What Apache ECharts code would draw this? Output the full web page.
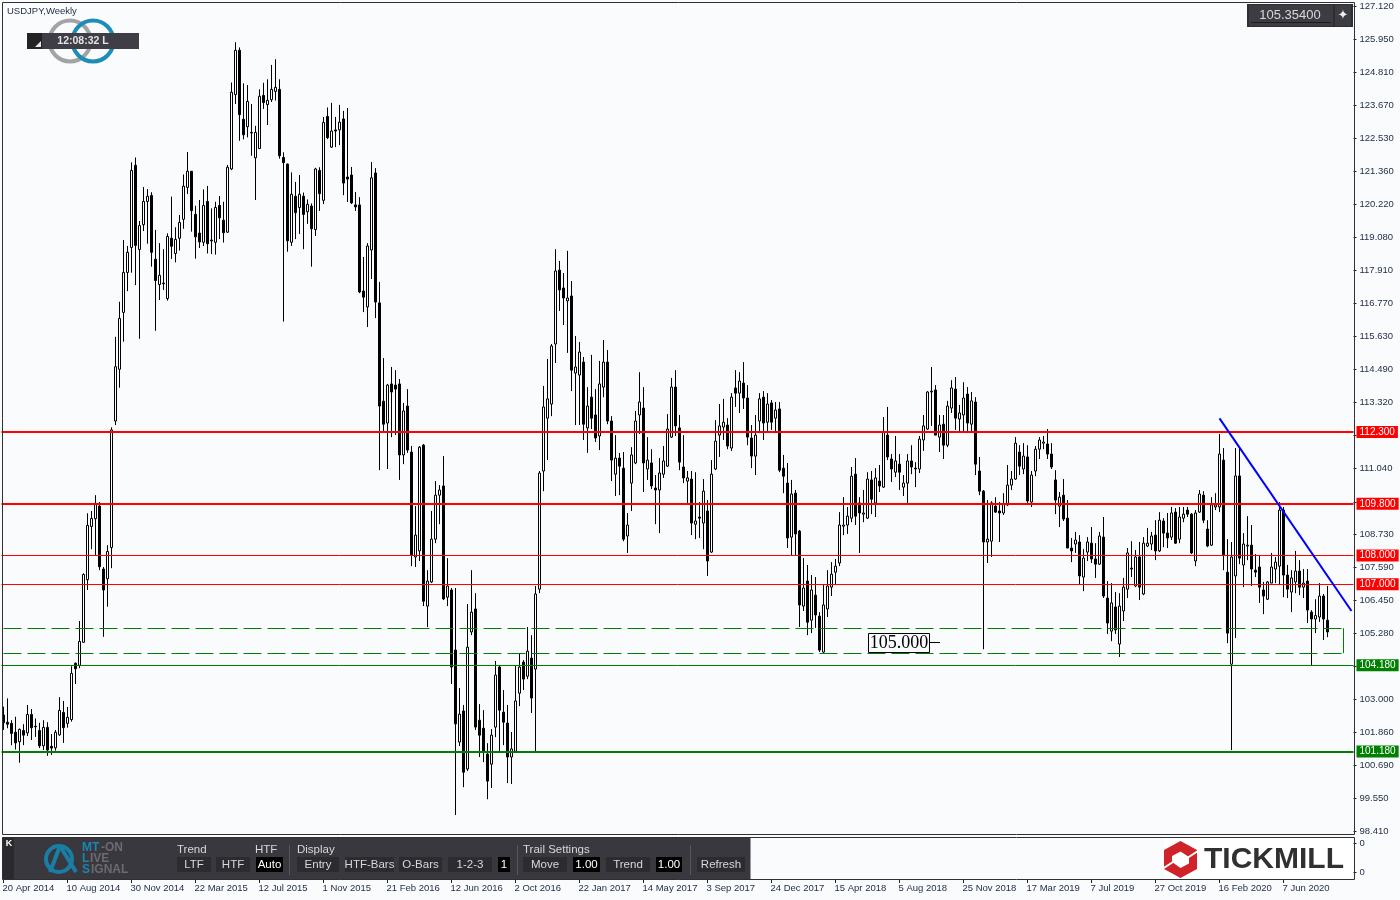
<!DOCTYPE html>
<html><head><meta charset="utf-8">
<style>html,body{margin:0;padding:0;background:#f9fbfd}#c{width:1400px;height:900px}</style>
<script src="https://cdn.jsdelivr.net/npm/echarts@6/dist/echarts.min.js"></script>
</head><body><div id="c"></div>
<script>
const tickLabels=['20 Apr 2014','10 Aug 2014','30 Nov 2014','22 Mar 2015','12 Jul 2015','1 Nov 2015','21 Feb 2016','12 Jun 2016','2 Oct 2016','22 Jan 2017','14 May 2017','3 Sep 2017','24 Dec 2017','15 Apr 2018','5 Aug 2018','25 Nov 2018','17 Mar 2019','7 Jul 2019','27 Oct 2019','16 Feb 2020','7 Jun 2020'];
const priceTicks=[127.12,125.95,124.81,123.67,122.53,121.36,120.22,119.08,117.91,116.77,115.63,114.49,113.32,112.18,111.04,109.87,108.73,107.59,106.45,105.28,104.14,103.0,101.86,100.69,99.55,98.41];
const opens=[102.45,102.20,102.16,101.85,101.52,101.91,101.83,102.47,102.06,101.91,
101.38,102.02,101.36,101.31,101.76,102.54,102.16,102.29,104.25,104.18,
104.98,107.16,109.01,109.28,109.72,107.53,107.19,108.28,112.68,114.48,
116.46,117.85,118.72,121.58,118.65,119.51,120.32,120.53,118.31,117.43,
117.48,116.94,119.04,118.51,119.04,119.70,120.81,121.37,119.87,119.22,
118.90,120.32,118.98,118.90,120.18,119.67,119.25,121.45,124.04,125.58,
123.18,122.92,122.72,121.84,122.16,124.01,123.69,123.86,124.15,124.22,
121.85,121.62,118.90,120.50,120.11,120.50,119.96,120.16,119.34,121.40,
120.36,123.28,122.21,122.81,122.81,123.19,121.17,121.24,120.20,120.20,
117.20,116.65,118.63,121.31,116.79,113.37,112.61,113.97,113.93,113.97,
111.50,113.20,111.60,107.95,108.16,111.84,106.24,107.08,108.57,110.10,
110.42,106.55,106.80,104.71,101.51,102.59,100.57,105.34,106.14,102.27,
101.99,101.09,100.74,102.03,104.12,102.55,102.17,100.99,101.19,103.21,
104.29,103.80,104.43,104.05,106.83,110.94,112.78,113.27,115.36,117.93,
117.31,116.86,117.03,114.35,114.28,114.73,112.44,113.51,112.89,112.16,
113.86,114.73,112.68,110.83,111.39,111.04,108.68,110.52,111.22,112.89,
113.13,111.01,111.22,110.35,110.28,110.83,111.11,112.12,113.86,112.44,
111.08,110.59,110.66,109.09,109.34,109.13,109.55,108.12,111.01,112.19,
112.47,112.54,111.74,113.83,113.65,114.00,113.48,112.09,111.46,112.68,
113.51,112.64,113.31,112.78,113.10,111.04,110.52,108.64,110.17,108.85,
106.24,107.11,105.75,106.62,105.89,104.64,106.14,106.90,107.42,107.74,
109.02,109.06,109.30,110.83,109.83,109.44,109.30,110.63,109.83,110.59,
110.38,112.19,111.36,110.90,111.18,110.38,110.52,111.29,111.04,111.01,
112.02,112.40,113.69,113.76,112.12,112.57,111.84,113.13,113.79,112.75,
112.89,113.62,112.57,113.34,110.94,110.24,108.47,108.50,109.72,109.55,
109.48,109.76,110.45,110.66,111.60,111.01,111.43,109.86,110.94,111.70,
111.91,111.88,111.53,110.63,109.72,110.10,109.30,108.26,108.40,108.47,
107.25,108.12,108.43,107.88,107.70,108.64,106.52,105.37,106.21,104.92,
106.07,106.83,107.56,106.94,107.95,106.66,108.33,108.40,108.71,108.16,
109.20,108.78,108.64,109.51,108.57,109.30,109.58,109.44,107.81,109.51,
110.10,108.92,108.36,109.69,109.69,111.32,107.42,104.22,107.29,110.77,
107.67,108.33,108.36,107.49,107.60,106.80,106.48,107.04,107.53,107.63,
109.58,107.32,106.73,107.08,107.46,106.90,107.11,106.03,105.79,105.86,106.59,105.75];
const closes=[102.18,102.13,101.81,101.48,101.95,101.75,102.47,102.01,102.04,101.38,
102.02,101.23,101.30,101.85,102.61,102.01,102.37,103.90,104.06,105.01,
107.34,109.05,109.29,109.81,107.61,106.80,108.14,112.37,114.57,116.25,
117.85,118.55,121.40,118.79,119.48,120.32,120.50,118.55,117.57,117.75,
117.46,119.10,118.76,119.00,119.59,120.85,121.37,120.00,119.09,118.91,
120.18,118.85,118.95,120.11,119.75,119.23,121.51,124.12,125.58,123.34,
122.64,123.80,122.70,122.72,123.98,123.76,123.84,124.22,124.29,121.91,
121.67,118.95,120.57,119.93,120.57,119.87,120.22,119.37,121.45,120.59,
123.07,122.54,122.77,122.77,123.08,120.96,121.10,120.27,120.13,117.17,
116.99,118.77,121.14,116.82,113.20,112.57,113.93,113.69,113.79,111.50,
113.03,111.67,108.02,108.71,111.77,106.41,107.11,108.57,110.10,110.28,
106.49,106.94,104.12,102.14,102.48,100.46,104.81,106.03,102.03,101.75,
101.19,100.15,101.75,103.84,102.62,102.20,100.99,101.27,102.94,104.12,
103.70,104.67,103.04,106.66,110.87,113.17,113.45,115.29,117.90,117.24,
116.96,116.96,114.45,114.56,115.08,112.57,113.20,112.78,112.09,113.97,
114.73,112.68,111.32,111.39,111.11,108.57,109.06,111.50,112.68,113.34,
111.22,111.32,110.42,110.28,110.87,111.29,112.40,113.86,112.51,111.25,
110.70,110.70,109.13,109.20,109.30,110.24,107.81,110.83,111.98,112.51,
112.64,111.81,113.51,113.65,114.07,113.48,112.12,111.46,112.19,113.45,
112.61,113.27,112.64,113.06,110.97,110.76,108.61,110.14,108.75,106.28,
106.87,105.68,106.80,105.93,104.71,106.28,106.94,107.35,107.63,109.06,
109.06,109.37,110.76,109.37,109.48,109.48,110.66,109.96,110.70,110.42,
112.30,111.43,111.01,111.29,110.90,110.52,111.29,111.08,111.01,112.05,
112.51,113.69,113.72,112.19,112.54,111.84,113.20,113.83,112.78,112.96,
113.48,112.61,113.38,111.18,110.24,108.47,108.57,109.83,109.51,109.48,
109.79,110.45,110.66,111.91,111.11,111.46,109.90,110.80,111.70,112.02,
111.95,111.53,111.08,109.93,110.03,109.27,108.26,108.16,108.54,107.29,
107.91,108.47,107.88,107.70,108.68,106.59,105.65,106.35,105.41,106.24,
106.90,108.09,107.53,107.95,106.90,108.43,108.43,108.68,108.16,109.23,
108.78,108.61,109.48,108.43,109.34,109.44,109.44,108.09,109.48,110.14,
109.23,108.33,109.76,109.76,111.53,108.02,105.30,107.95,110.77,107.91,
108.40,108.36,107.53,107.42,106.90,106.59,107.08,107.60,107.77,109.58,
107.32,106.83,107.22,107.46,106.90,107.04,106.10,105.79,105.91,106.59,105.79,105.34];
const highs=[102.74,103.03,102.27,102.39,101.98,102.13,102.80,102.66,102.33,102.18,
102.27,102.20,101.79,101.93,103.07,102.94,102.73,104.15,104.28,105.72,
107.38,109.47,109.55,110.10,109.86,107.60,108.36,112.46,115.61,116.83,
118.98,118.77,121.68,121.85,119.64,120.82,120.75,120.64,119.33,118.87,
118.66,119.21,120.49,119.42,119.85,121.26,122.04,121.38,120.17,120.37,
120.74,120.86,120.08,120.31,120.51,120.31,121.59,124.46,125.86,125.68,
124.43,124.37,123.71,122.95,124.22,124.45,124.57,125.07,125.27,124.57,
122.03,121.64,121.33,121.00,121.24,120.63,120.39,120.25,121.49,121.51,
123.26,123.59,123.75,123.26,123.68,123.47,123.57,121.52,120.65,120.47,
118.39,118.87,121.69,121.48,117.52,114.87,113.97,114.56,114.45,114.14,
113.31,113.79,111.81,109.72,111.81,111.88,107.49,109.55,110.59,110.45,
111.46,107.91,106.87,106.87,103.39,102.80,106.31,107.49,106.69,102.83,
102.62,101.47,101.96,104.33,104.19,103.32,102.80,101.86,104.19,104.60,
104.36,105.51,105.23,106.94,110.94,113.90,114.84,115.36,118.66,118.25,
117.83,118.60,117.55,115.64,115.43,114.91,113.86,114.98,113.79,114.77,
115.50,115.15,112.85,112.19,111.57,111.60,109.48,111.77,113.03,114.38,
113.86,112.12,111.70,110.80,111.39,111.81,112.92,114.18,114.45,112.89,
112.19,110.94,110.94,110.90,109.86,110.66,109.93,111.32,112.71,113.27,
113.45,112.78,113.65,114.45,114.38,114.73,113.93,112.54,112.89,113.65,
113.72,113.65,113.41,113.34,113.34,111.50,111.22,110.63,110.28,108.89,
107.91,107.67,107.32,107.25,106.03,106.97,107.49,107.77,107.88,109.51,
110.03,109.69,111.08,111.39,110.03,110.28,110.90,110.94,111.04,111.15,
112.82,113.17,111.53,112.16,111.53,110.80,111.53,111.84,111.25,112.16,
112.89,113.72,114.56,113.93,112.89,112.89,113.38,114.10,114.21,113.24,
114.03,113.86,113.69,113.51,111.43,110.28,109.93,109.89,110.03,109.86,
110.17,111.15,110.94,112.12,111.84,111.91,111.84,110.94,111.81,112.12,
112.16,112.40,111.91,110.97,110.21,110.66,109.93,108.61,108.82,108.71,
108.22,108.64,108.99,108.43,108.82,109.34,107.11,107.04,106.73,106.69,
107.22,108.26,108.50,108.19,108.47,108.64,108.96,108.82,109.23,109.51,
109.30,109.48,109.69,109.65,109.69,109.69,109.69,109.48,109.58,110.28,
110.24,109.23,110.03,110.17,112.23,111.74,108.57,108.47,111.74,111.77,
108.78,109.37,109.06,108.05,108.02,107.08,107.11,108.09,107.95,109.86,
109.69,107.67,107.49,108.16,107.84,107.53,107.53,106.10,106.48,107.04,106.66,106.94];
const lows=[101.93,101.99,101.40,101.25,100.79,101.40,101.72,101.58,101.69,101.30,
101.23,101.03,101.06,101.21,101.73,101.48,102.01,102.22,103.53,104.08,
104.97,106.80,108.22,108.02,107.49,105.17,106.22,107.56,112.54,113.84,
115.44,117.20,117.84,117.41,115.54,119.29,118.85,118.05,115.82,116.89,
117.24,116.87,118.32,118.20,118.61,119.37,120.58,119.27,118.33,118.70,
118.77,118.51,118.49,118.47,119.01,118.89,119.23,121.41,123.71,122.43,
122.48,122.55,121.91,120.37,122.15,123.54,122.98,123.78,123.83,121.81,
116.14,118.57,118.77,119.01,119.19,118.66,119.54,118.05,119.12,119.99,
120.23,122.49,122.18,122.21,122.28,120.54,120.30,120.23,119.99,117.13,
116.47,115.95,117.62,116.26,110.97,112.30,111.01,112.12,112.19,110.63,
111.18,111.57,107.63,107.60,107.81,106.24,105.51,107.04,108.43,109.09,
106.45,106.24,103.53,98.97,101.37,99.94,100.50,105.23,101.93,100.99,
100.81,99.52,99.91,101.68,101.19,101.40,100.08,100.05,101.19,102.76,
103.32,103.70,102.52,101.19,106.69,110.24,111.32,112.85,114.70,116.51,
116.02,115.05,113.72,112.54,112.54,112.02,111.57,112.40,111.95,111.67,
113.51,112.57,110.59,110.07,110.10,108.50,108.09,109.55,111.18,112.23,
110.21,110.63,110.31,109.09,108.78,110.70,111.08,112.09,112.16,110.97,
110.52,109.83,108.71,108.57,108.61,108.22,107.29,108.09,110.97,111.43,
112.02,111.70,111.64,113.17,112.96,113.10,111.84,111.04,110.80,112.26,
112.02,112.30,112.37,112.26,110.90,110.17,108.26,108.02,108.02,105.51,
106.07,105.23,105.30,105.48,104.64,104.61,105.86,106.59,106.97,107.63,
108.71,108.75,109.16,109.06,108.09,109.16,109.27,109.44,109.34,110.21,
110.35,111.32,110.56,110.73,110.28,110.07,109.83,110.83,110.38,110.87,
111.64,112.37,112.51,112.19,111.60,111.36,111.77,112.96,112.37,112.33,
112.30,112.26,112.26,110.80,110.10,104.74,107.74,107.95,109.48,108.47,
109.41,109.72,110.28,110.63,110.80,110.83,109.83,109.69,110.76,111.36,
111.70,111.36,111.01,109.44,108.99,109.20,108.26,107.77,108.09,107.01,
106.76,107.81,107.74,107.22,107.67,106.52,105.27,105.02,105.27,104.47,
105.72,106.52,107.25,106.90,106.45,106.62,108.29,108.19,107.84,108.12,
108.29,108.26,108.54,108.40,108.43,109.16,109.34,108.05,107.63,109.48,
109.13,108.29,108.33,109.58,109.51,107.49,104.95,101.23,105.13,107.70,
106.90,107.84,106.94,107.25,106.35,105.96,106.45,107.04,107.04,106.97,
106.55,106.52,106.03,106.69,106.62,106.52,105.65,104.19,105.30,105.69,105.06,105.16];
const levelValues=[112.3,109.8,108.0,107.0,104.18,101.18];
const levelColors=['#ff0000','#ff0000','#ff0000','#ff0000','#008000','#008000'];
const levelWidths=[2,2,1,1,1,2];
const zoneTop=105.47, zoneBottom=104.60, zoneEndBar=335;
const trendStart=[304,112.77], trendEnd=[337,106.07];
const sideBars=6;
const cats=[];
for(let i=0;i<opens.length+sideBars;i++){cats.push(i%16===0&&tickLabels[i/16]?tickLabels[i/16]:'w'+i);}
const candles=opens.map((o,i)=>[o,closes[i],lows[i],highs[i]]);
const showTick=(idx)=>idx%16===0&&idx<opens.length;

const FONT='"Liberation Sans",Arial,sans-serif';
const PANEL='#39383f', BTN='#2b2b30', AXIS='#1f2a44';
const g=[];
const rect=(x,y,w,h,fill,z)=>g.push({type:'rect',z:z||50,silent:true,shape:{x,y,width:w,height:h},style:{fill}});
const txt=(x,y,t,o)=>g.push({type:'text',z:60,silent:true,x,y,style:Object.assign({text:t,fill:'#d8d8da',font:'11.5px '+FONT,textAlign:'center',textVerticalAlign:'middle'},o||{})});
const btn=(x,w,t,black)=>{rect(x,857,w,15,black?'#000':BTN,55);txt(x+w/2,864.5,t,{fill:black?'#fff':'#d8d8da'});};
rect(2.5,837,748,42.5,PANEL);
rect(3,838,11,41,'#2a2a2e',52);
txt(9,844,'K',{font:'bold 9px '+FONT,fill:'#fff'});
txt(177,849.5,'Trend',{textAlign:'left'});
btn(177,34,'LTF');btn(216,34,'HTF');
txt(255,849.5,'HTF',{textAlign:'left'});
btn(256,27,'Auto',true);
rect(289,845,1,30,'#55555b',55);
txt(297,849.5,'Display',{textAlign:'left'});
btn(297,42,'Entry');btn(345,49,'HTF-Bars');btn(399,43,'O-Bars');btn(448,44,'1-2-3');btn(498,12,'1',true);
rect(517,845,1,30,'#55555b',55);
txt(523,849.5,'Trail Settings',{textAlign:'left'});
btn(523,44,'Move');btn(573,27,'1.00',true);btn(606,44,'Trend');btn(656,26,'1.00',true);
rect(690,845,1,30,'#55555b',55);
btn(697,48,'Refresh');
g.push({type:'arc',z:60,silent:true,shape:{cx:59,cy:859,r:13,startAngle:0,endAngle:Math.PI*2},style:{stroke:'#1a7da6',lineWidth:4,fill:null}});
g.push({type:'line',z:60,silent:true,shape:{x1:50,y1:872,x2:60,y2:846},style:{stroke:'#1a7da6',lineWidth:4}});
g.push({type:'line',z:60,silent:true,shape:{x1:60,y1:846,x2:76,y2:872},style:{stroke:'#1a7da6',lineWidth:4}});
txt(82,848,'MT',{textAlign:'left',font:'bold 12px '+FONT,fill:'#1a86b0'});
txt(101,848,'-ON',{textAlign:'left',font:'bold 12px '+FONT,fill:'#6b6b70'});
txt(82,858.5,'L',{textAlign:'left',font:'bold 12px '+FONT,fill:'#1a86b0'});
txt(90,858.5,'IVE',{textAlign:'left',font:'bold 12px '+FONT,fill:'#6b6b70'});
txt(82,869.5,'S',{textAlign:'left',font:'bold 12px '+FONT,fill:'#1a86b0'});
txt(91,869.5,'IGNAL',{textAlign:'left',font:'bold 12px '+FONT,fill:'#6b6b70'});
rect(1164,838,189,41,'#ffffff',45);
g.push({type:'polygon',z:60,silent:true,shape:{points:[[1164,867],[1164,850],[1180.5,841],[1197,850],[1197,852],[1189,857],[1180.5,851.5],[1172,856],[1172,862]]},style:{fill:'#cf2229'}});
g.push({type:'polygon',z:60,silent:true,shape:{points:[[1197,852],[1197,869],[1180.5,878],[1164,869],[1164,867],[1172,862],[1180.5,868],[1189,863.5],[1189,857]]},style:{fill:'#cf2229'}});
g.push({type:'line',z:61,silent:true,shape:{x1:1163,y1:868.5,x2:1173,y2:862},style:{stroke:'#fff',lineWidth:2}});
g.push({type:'line',z:61,silent:true,shape:{x1:1188,y1:857.5,x2:1198,y2:851},style:{stroke:'#fff',lineWidth:2}});
txt(1204,860,'TICKMILL',{textAlign:'left',font:'bold 30px '+FONT,fill:'#303030'});
g.push({type:'arc',z:40,silent:true,shape:{cx:70,cy:41,r:20.5,startAngle:0,endAngle:Math.PI*2},style:{stroke:'#a3a3a5',lineWidth:4,fill:null}});
g.push({type:'arc',z:41,silent:true,shape:{cx:93,cy:41,r:20.5,startAngle:0,endAngle:Math.PI*2},style:{stroke:'#1b8db8',lineWidth:4,fill:null}});
rect(27,33,112,16,'#3f3d45');
rect(27,33,15,16,'#232326',51);
g.push({type:'polygon',z:60,silent:true,shape:{points:[[35,47],[41,47],[41,41]]},style:{fill:'#e8e8e8'}});
txt(83,41,'12:08:32 L',{font:'bold 10.5px '+FONT,fill:'#e4e4e6'});
txt(7,11,'USDJPY,Weekly',{textAlign:'left',font:'9.5px '+FONT,fill:AXIS});
rect(1247,4,106,23,'#2e2d33');
rect(1249,5,84,21,'#3d3c43',51);
rect(1251,22,80,1,'#1c1c1f',52);
rect(1335,5,16,21,'#3d3c43',51);
txt(1290,15.5,'105.35400',{font:'13px '+FONT,fill:'#d8d8da'});
txt(1343,15.5,'\u2726',{font:'13px "DejaVu Sans"',fill:'#eee'});
rect(868.5,633.5,61,19,'#f9fbfd',40);
g.push({type:'rect',z:61,silent:true,shape:{x:868.5,y:633.5,width:61,height:19},style:{fill:null,stroke:'#000',lineWidth:1}});
g.push({type:'line',z:61,silent:true,shape:{x1:930,y1:642.5,x2:940,y2:642.5},style:{stroke:'#000',lineWidth:1}});
txt(899,643.5,'105.000',{font:'18px "Liberation Serif",serif',fill:'#000'});
[[2.5,2.5,1352,832],[2.5,837.5,1352,42]].forEach(f=>g.push({type:'rect',z:70,silent:true,shape:{x:f[0],y:f[1],width:f[2],height:f[3]},style:{fill:null,stroke:'#2f2f2f',lineWidth:1}}));

const levelLines=levelValues.map((v,i)=>({yAxis:v,lineStyle:{color:levelColors[i],width:levelWidths[i],type:'solid'},
  label:{show:true,position:'end',distance:3,formatter:v.toFixed(3),color:'#fff',backgroundColor:levelColors[i],padding:[1,3,1,3],fontFamily:FONT,fontSize:10,lineHeight:10}}));
const dash={color:'#008000',width:1,type:[18,6]};
const seg=(a,b,ls)=>[{coord:a,lineStyle:ls,label:{show:false}},{coord:b}];

const chart=echarts.init(document.getElementById('c'),null,{renderer:'canvas'});
chart.setOption({
 animation:false,backgroundColor:'#f9fbfd',
 grid:[{left:1.5,top:2,width:4*cats.length,height:832,outerBoundsMode:'none',containLabel:false},
       {left:1.5,top:837,width:4*cats.length,height:43,outerBoundsMode:'none',containLabel:false}],
 xAxis:[
  {type:'category',gridIndex:0,data:cats,boundaryGap:true,axisLine:{show:false,onZero:false},axisTick:{show:false},axisLabel:{show:false},splitLine:{show:false}},
  {type:'category',gridIndex:1,data:cats,boundaryGap:true,axisLine:{show:false,onZero:false},splitLine:{show:false},
   axisTick:{show:true,alignWithLabel:true,interval:showTick,length:3,lineStyle:{color:'#222'}},
   axisLabel:{show:true,interval:showTick,align:'left',margin:3,verticalAlign:'top',fontFamily:FONT,fontSize:9.5,color:AXIS,hideOverlap:false,padding:[0,0,0,-1]}}
 ],
 yAxis:[
  {type:'value',gridIndex:0,position:'right',min:98.31,max:127.26,splitLine:{show:false},axisLine:{show:false},
   axisTick:{show:true,length:3,customValues:priceTicks,lineStyle:{color:'#222'}},
   axisLabel:{show:true,customValues:priceTicks,formatter:v=>v.toFixed(3),fontFamily:FONT,fontSize:9.5,color:AXIS,margin:6,padding:[2,0,0,0],showMinLabel:true,showMaxLabel:true}},
  {type:'value',gridIndex:1,position:'right',min:0,max:43,splitLine:{show:false},axisLine:{show:false},
   axisTick:{show:true,length:3,customValues:[8,37],lineStyle:{color:'#222'}},
   axisLabel:{show:true,customValues:[8,37],formatter:()=>'0',fontFamily:FONT,fontSize:9.5,color:AXIS,margin:6,padding:[2,0,0,0]}}
 ],
 series:[{type:'candlestick',xAxisIndex:0,yAxisIndex:0,data:candles,barWidth:3,silent:true,z:2,
   itemStyle:{color:'#ffffff',color0:'#000000',borderColor:'#000000',borderColor0:'#000000',borderWidth:1},
   markLine:{silent:true,symbol:'none',z:5,animation:false,precision:3,
    data:[...levelLines,
      seg([cats[0],zoneTop],[cats[zoneEndBar],zoneTop],dash),
      seg([cats[0],zoneBottom],[cats[zoneEndBar],zoneBottom],dash),
      seg([cats[zoneEndBar],zoneTop],[cats[zoneEndBar],zoneBottom],{color:'#008000',width:1,type:'solid'}),
      seg([cats[trendStart[0]],trendStart[1]],[cats[trendEnd[0]],trendEnd[1]],{color:'#0000ff',width:2,type:'solid'})
    ]}
 }],
 graphic:{elements:g}
});
</script></body></html>
